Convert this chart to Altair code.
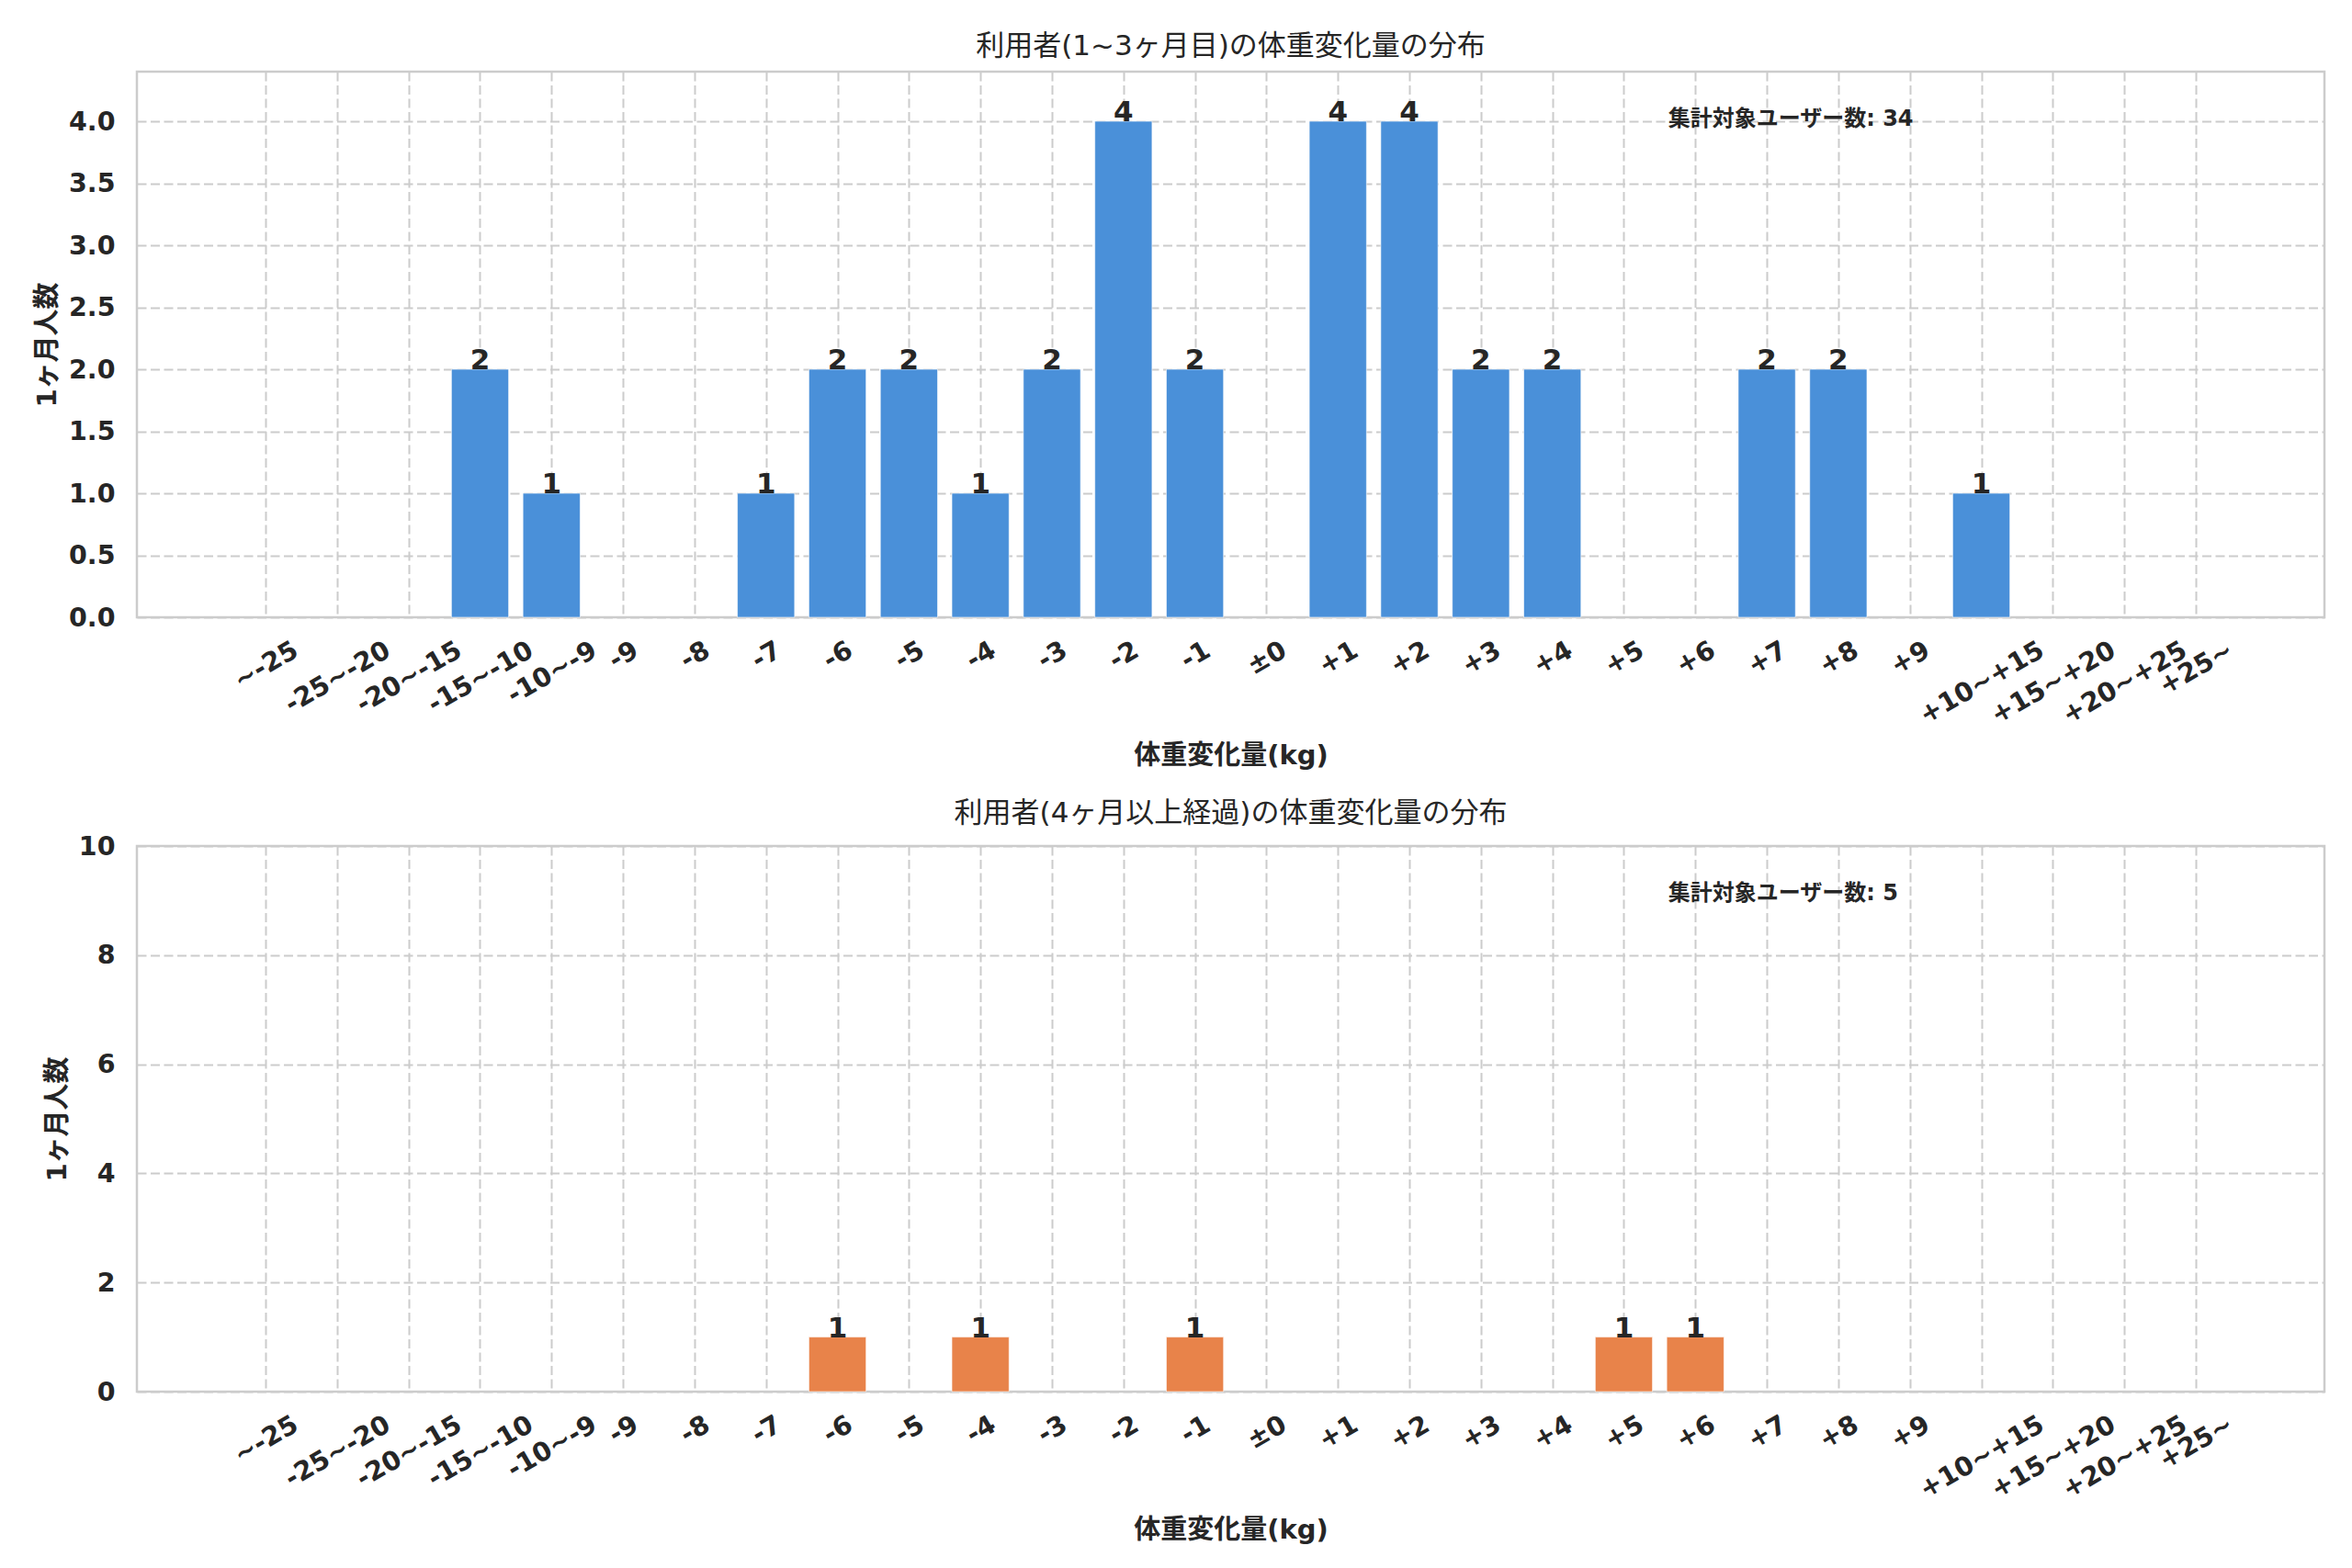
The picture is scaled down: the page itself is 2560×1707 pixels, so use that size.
import json
import altair as alt
import pandas as pd

# ---------------- data ----------------
categories = ["~-25", "-25~-20", "-20~-15", "-15~-10", "-10~-9", "-9", "-8", "-7",
              "-6", "-5", "-4", "-3", "-2", "-1", "±0", "+1", "+2", "+3", "+4",
              "+5", "+6", "+7", "+8", "+9", "+10~+15", "+15~+20", "+20~+25", "+25~"]
short_counts = [0, 0, 0, 2, 1, 0, 0, 1, 2, 2, 1, 2, 4, 2, 0, 4, 4, 2, 2, 0, 0, 2, 2, 0, 1, 0, 0, 0]
long_counts = [0, 0, 0, 0, 0, 0, 0, 0, 1, 0, 1, 0, 0, 1, 0, 0, 0, 0, 0, 1, 1, 0, 0, 0, 0, 0, 0, 0]

title_short = "利用者(1~3ヶ月目)の体重変化量の分布"
title_long = "利用者(4ヶ月以上経過)の体重変化量の分布"
x_title = "体重変化量(kg)"
y_title = "1ヶ月人数"
total_label = "集計対象ユーザー数"
short_ticks = [0, 0.5, 1.0, 1.5, 2.0, 2.5, 3.0, 3.5, 4.0]
long_ticks = [0, 2, 4, 6, 8, 10]

# ---------------- styling ----------------
W, H = 2381, 594
TXT = "#262626"
GRID = "#cccccc"
FONT = "DejaVu Sans, Noto Sans CJK JP"
TICK_FS = 28.5

# rotated-label padding so that the top of each rotated label sits at the same height
cw = {"-": 0.415, "+": 0.838, "~": 0.838, "±": 0.838}
def text_w(s):
    return sum(cw.get(c, 0.696) for c in s) * TICK_FS

pads = [24 + (text_w(c) * 0.5 + 0.729 * TICK_FS * 0.866) / 2 for c in categories]
label_pad = {"condition": [{"test": f"datum.value == {i}", "value": round(p, 1)}
                           for i, p in enumerate(pads)],
             "value": 40}
label_expr = "[" + ",".join(json.dumps(c, ensure_ascii=False) for c in categories) + "][round(datum.value)]"


def make_panel(counts, color, title, ydomain, yticks, yfmt, ytitle_x, title_offset):
    df = pd.DataFrame({"idx": list(range(len(categories))),
                       "cat": categories, "count": counts})
    df = df[df["count"] > 0]
    base = alt.Chart(df)
    xscale = alt.Scale(domain=[-1.8, 28.8], nice=False, zero=False)
    yscale = alt.Scale(domain=ydomain, nice=False)
    xaxis = alt.Axis(values=list(range(len(categories))), labelExpr=label_expr,
                     labelAngle=330, labelAlign="center", labelBaseline="middle",
                     labelPadding=label_pad, labelFont=FONT, labelFontSize=TICK_FS,
                     labelFontWeight="bold", labelColor=TXT, labelOverlap=False,
                     labelFlush=False, labelBound=False,
                     ticks=False, tickSize=0, domain=False,
                     grid=True, gridColor=GRID, gridDash=[10, 4.5], gridWidth=2,
                     title=x_title, titleFont=FONT, titleFontSize=29,
                     titleFontWeight="bold", titleColor=TXT, titleY=150,
                     titleBaseline="middle")
    yaxis = alt.Axis(values=yticks, format=yfmt, labelFont=FONT,
                     labelFontSize=TICK_FS, labelFontWeight="bold", labelColor=TXT,
                     labelPadding=24, ticks=False, tickSize=0, domain=False,
                     grid=True, gridColor=GRID, gridDash=[10, 4.5], gridWidth=2,
                     title=y_title, titleFont=FONT, titleFontSize=29,
                     titleFontWeight="bold", titleColor=TXT, titleX=ytitle_x,
                     titleBaseline="middle", titleAngle=270)
    bars = base.mark_bar(color=color, stroke="white", strokeWidth=1,
                         strokeOpacity=0.6).transform_calculate(
        lo="datum.idx - 0.4", hi="datum.idx + 0.4"
    ).encode(
        x=alt.X("lo:Q", scale=xscale, axis=xaxis),
        x2="hi:Q",
        y=alt.Y("count:Q", scale=yscale, axis=yaxis),
        y2=alt.datum(0),
    )
    labels = base.mark_text(baseline="alphabetic", align="center", font=FONT,
                            fontSize=31, fontWeight="bold", color=TXT).encode(
        x="idx:Q", y="count:Q", text="count:Q")
    ann_df = pd.DataFrame({"t": [f"{total_label}: {sum(counts)}"]})
    ann = alt.Chart(ann_df).mark_text(align="left", baseline="middle", font=FONT,
                                      fontSize=24, fontWeight="bold", color=TXT).encode(
        x=alt.value(W * 0.7), y=alt.value(52), text="t:N")
    return alt.layer(bars, labels, ann).properties(
        width=W, height=H,
        title=alt.TitleParams(title, font=FONT, fontSize=31, fontWeight="normal",
                              color=TXT, offset=title_offset, baseline="middle"))


top = make_panel(short_counts, "#4A90D9", title_short, [0, 4.4], short_ticks, ".1f", -98, -4)
bottom = make_panel(long_counts, "#E8834A", title_long, [0, 10], long_ticks, "d", -87, -10)

chart = alt.vconcat(top, bottom, spacing=29).properties(
    padding={"left": 27, "top": 25, "right": 10, "bottom": 10},
    background="white",
).configure_view(stroke=GRID, strokeWidth=2.5)

chart.save("out.html", embed_options={"renderer": "svg", "actions": False})
